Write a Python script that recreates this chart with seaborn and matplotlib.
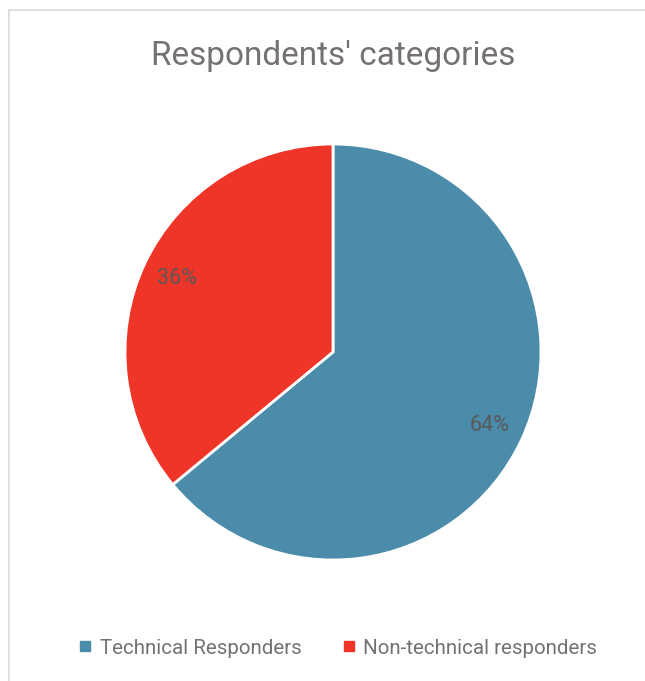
import matplotlib
matplotlib.use("Agg")
import matplotlib.pyplot as plt
from matplotlib.lines import Line2D
import seaborn as sns

# Data
categories = ["Technical Responders", "Non-technical responders"]
shares = [64, 36]
slice_colors = ["#4A8CAA", "#EF3428"]
title_text = "Respondents' categories"

sns.set_theme(style="white")
plt.rcParams["font.family"] = ["Roboto", "DejaVu Sans"]

W, H = 645, 681
fig = plt.figure(figsize=(W / 100, H / 100), dpi=100)
fig.patch.set_facecolor("white")

# Pie placement in pixels: centre and radius
cx, cy, r = 333, 352, 208
ax = fig.add_axes([(cx - r) / W, (H - cy - r) / H, 2 * r / W, 2 * r / H])

wedges, texts, autotexts = ax.pie(
    shares,
    colors=slice_colors,
    startangle=90,
    counterclock=False,
    autopct=lambda p: f"{p:.0f}%",
    pctdistance=0.83,
    wedgeprops=dict(edgecolor="white", linewidth=2),
    textprops=dict(color="#595959", fontsize=15.5),
)
ax.set_xlim(-1, 1)
ax.set_ylim(-1, 1)
ax.set_aspect("equal")
ax.axis("off")

fig.text(cx / W, 1 - 56 / H, title_text, ha="center", va="center",
         fontsize=24, color="#767171")

handles = [Line2D([0], [0], marker="s", linestyle="none", markersize=7,
                  markerfacecolor=c, markeredgecolor=c) for c in slice_colors]
fig.legend(handles, categories, loc="center", bbox_to_anchor=(338 / W, 1 - 648 / H),
           ncol=2, frameon=False, fontsize=14.8, labelcolor="#767171",
           handlelength=0.6, handletextpad=0.4, columnspacing=2.0)

# Chart-area border (top and left edges)
border = "#D9D9D9"
fig.add_artist(Line2D([9 / W, 1], [1 - 10 / H, 1 - 10 / H], color=border, lw=1.2,
                      transform=fig.transFigure))
fig.add_artist(Line2D([9 / W, 9 / W], [0, 1 - 10 / H], color=border, lw=1.2,
                      transform=fig.transFigure))

fig.savefig("out.png", dpi=100)
